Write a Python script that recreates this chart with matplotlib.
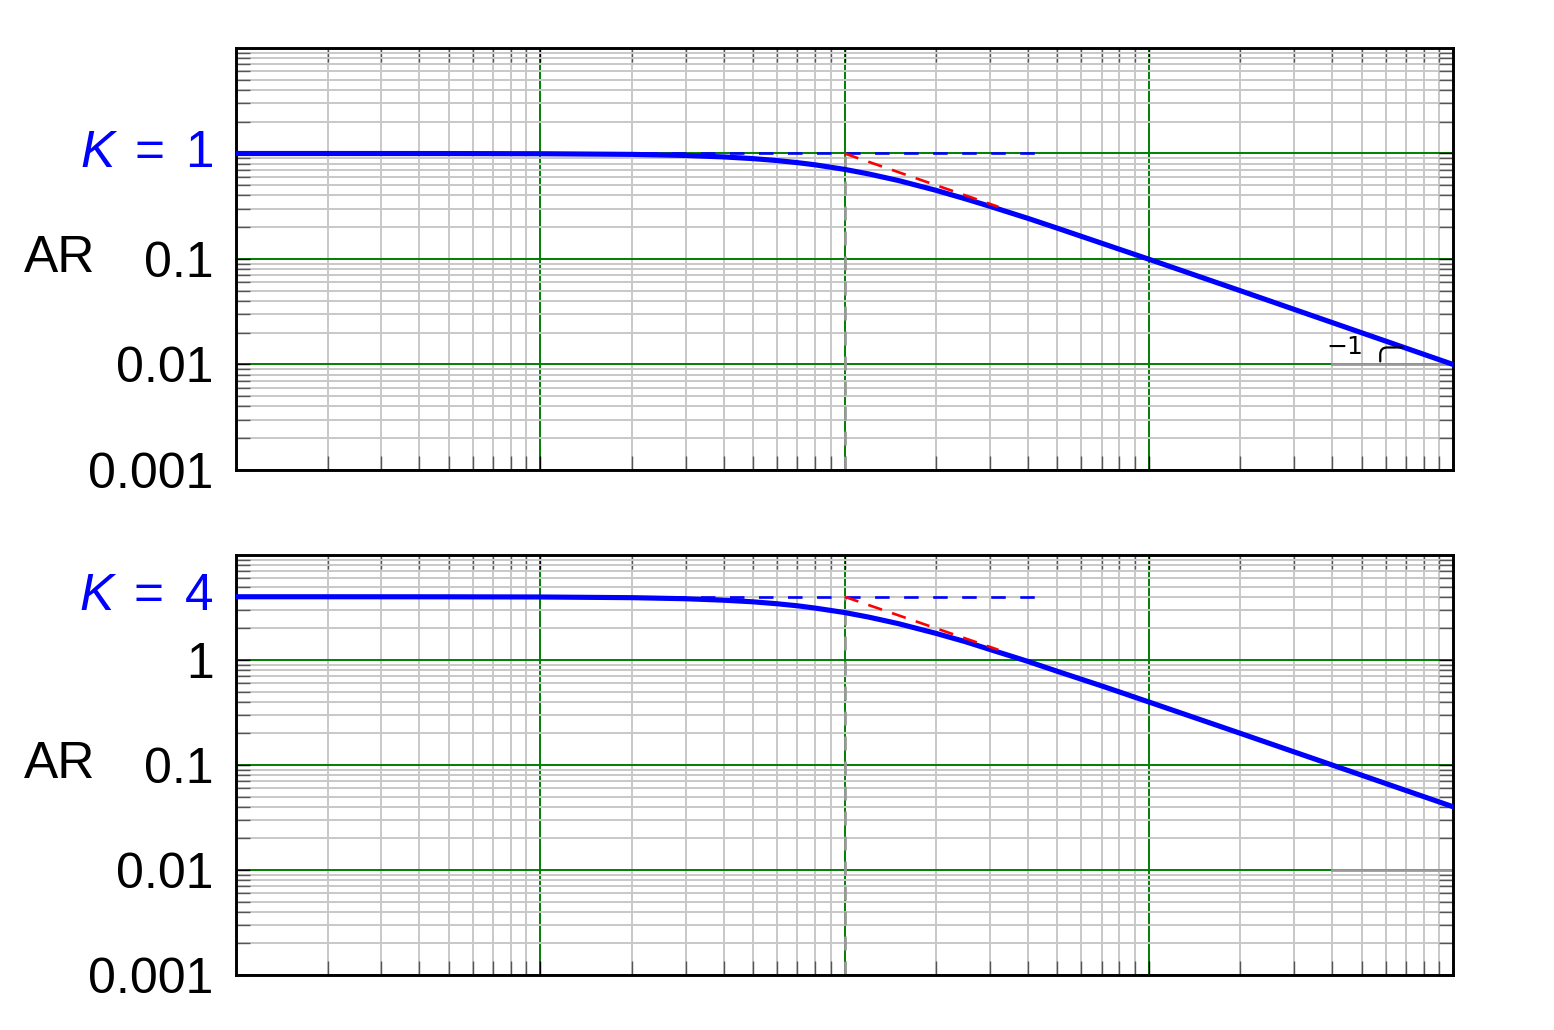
import matplotlib
matplotlib.use("Agg")
import matplotlib.pyplot as plt
import matplotlib.transforms as mtransforms
from matplotlib.ticker import LogLocator, NullFormatter, FixedLocator

plt.rcParams['font.family'] = ['Liberation Sans', 'DejaVu Sans']
plt.rcParams['mathtext.fontset'] = 'custom'
plt.rcParams['mathtext.rm'] = 'Liberation Sans'
plt.rcParams['mathtext.it'] = 'Liberation Sans:italic'

# frequency points (omega, rad/time)
omega = [0.01, 0.02, 0.05, 0.1, 0.2, 0.3, 0.4, 0.5, 0.6, 0.7, 0.8, 1.0, 1.2,
         1.5, 2.0, 2.5, 3.0, 4.0, 5.0, 7.0, 10.0, 20.0, 50.0, 100.0]
# amplitude ratio, K = 1
ar_k1 = [1.0, 1.0, 0.999, 0.995, 0.981, 0.958, 0.928, 0.894, 0.857, 0.819,
         0.781, 0.707, 0.640, 0.555, 0.447, 0.371, 0.316, 0.243, 0.196,
         0.141, 0.0995, 0.050, 0.020, 0.010]
# amplitude ratio, K = 4
ar_k4 = [4.0, 4.0, 3.995, 3.98, 3.92, 3.83, 3.71, 3.58, 3.43, 3.28, 3.12,
         2.83, 2.56, 2.22, 1.79, 1.49, 1.26, 0.97, 0.78, 0.566, 0.398,
         0.200, 0.080, 0.040]

gains = [1, 4]
gain_labels = ['$K\\;=\\;1$', '$K\\;=\\;4$']
curves = [ar_k1, ar_k4]

# asymptotes
low_asym_w = [0.01, 4.5]
high_asym_w = [1.0, 3.2]
high_asym_frac = [1.0, 1 / 3.2]

# slope marker base
slope_w = [40.0, 100.0]
slope_y = [0.01, 0.01]

ytick_vals = [0.001, 0.01, 0.1, 1]
ytick_labels = [['0.001', '0.01', '0.1', ''], ['0.001', '0.01', '0.1', '1']]

fig = plt.figure(figsize=(15.54, 10.3), dpi=100)
axes = [fig.add_axes([0.1519, 0.5437, 0.7832, 0.4097]),
        fig.add_axes([0.1519, 0.0534, 0.7832, 0.4078])]

for i, ax in enumerate(axes):
    K = gains[i]
    ax.set_xscale('log')
    ax.set_yscale('log')
    ax.set_xlim(0.01, 100)
    ax.set_ylim(0.001, 10)

    ax.xaxis.set_major_locator(FixedLocator([0.1, 1, 10]))
    ax.xaxis.set_minor_locator(LogLocator(base=10, subs=range(2, 10)))
    ax.xaxis.set_major_formatter(NullFormatter())
    ax.xaxis.set_minor_formatter(NullFormatter())
    ax.yaxis.set_major_locator(FixedLocator(ytick_vals))
    ax.yaxis.set_minor_locator(LogLocator(base=10, subs=range(2, 10)))
    ax.yaxis.set_minor_formatter(NullFormatter())
    ax.set_yticklabels(ytick_labels[i])

    ax.grid(which='minor', color='#c8c8c8', lw=1.4, zorder=0)
    ax.grid(which='major', color='#008000', lw=1.4, zorder=0)
    ax.set_axisbelow(True)

    ax.tick_params(which='both', direction='in', top=True, right=True,
                   length=10, width=1.0, labelsize=36, pad=16)
    ax.tick_params(which='minor', color='#555555')
    for s in ax.spines.values():
        s.set_linewidth(2.1)

    # corner-frequency marker and slope base
    ax.plot([1, 1], [0.001, K], color='#9a9a9a', lw=2.0, ls=(0, (5, 4)), zorder=2)
    ax.plot(slope_w, slope_y, color='#9a9a9a', lw=2.0, zorder=2)

    ax.plot(omega, curves[i], color='blue', lw=3.7, zorder=3)
    ax.plot(low_asym_w, [K, K], color='blue', lw=1.9, ls=(0, (5.5, 5.5)), zorder=4)
    ax.plot(high_asym_w, [K * f for f in high_asym_frac], color='red', lw=1.9,
            ls=(0, (5.5, 4)), zorder=4)

    trans = mtransforms.blended_transform_factory(ax.transAxes, ax.transData)
    ax.text(-0.0185, K, gain_labels[i], color='blue', fontsize=37,
            ha='right', va='center', transform=trans)
    ax.text(-0.145, 0.1, 'AR', fontsize=37, ha='center', va='center',
            transform=trans)

# slope annotation
top = axes[0]
top.text(44, 0.0148, '\u22121', fontsize=18, family='DejaVu Sans',
         ha='center', va='center')
top.annotate('', xy=(68, 0.0145), xytext=(57.6, 0.0107),
             arrowprops=dict(arrowstyle='-', lw=1.6, color='black',
                             connectionstyle='angle,angleA=90,angleB=0,rad=7',
                             shrinkA=0, shrinkB=0))

fig.savefig('out.png', dpi=100)
